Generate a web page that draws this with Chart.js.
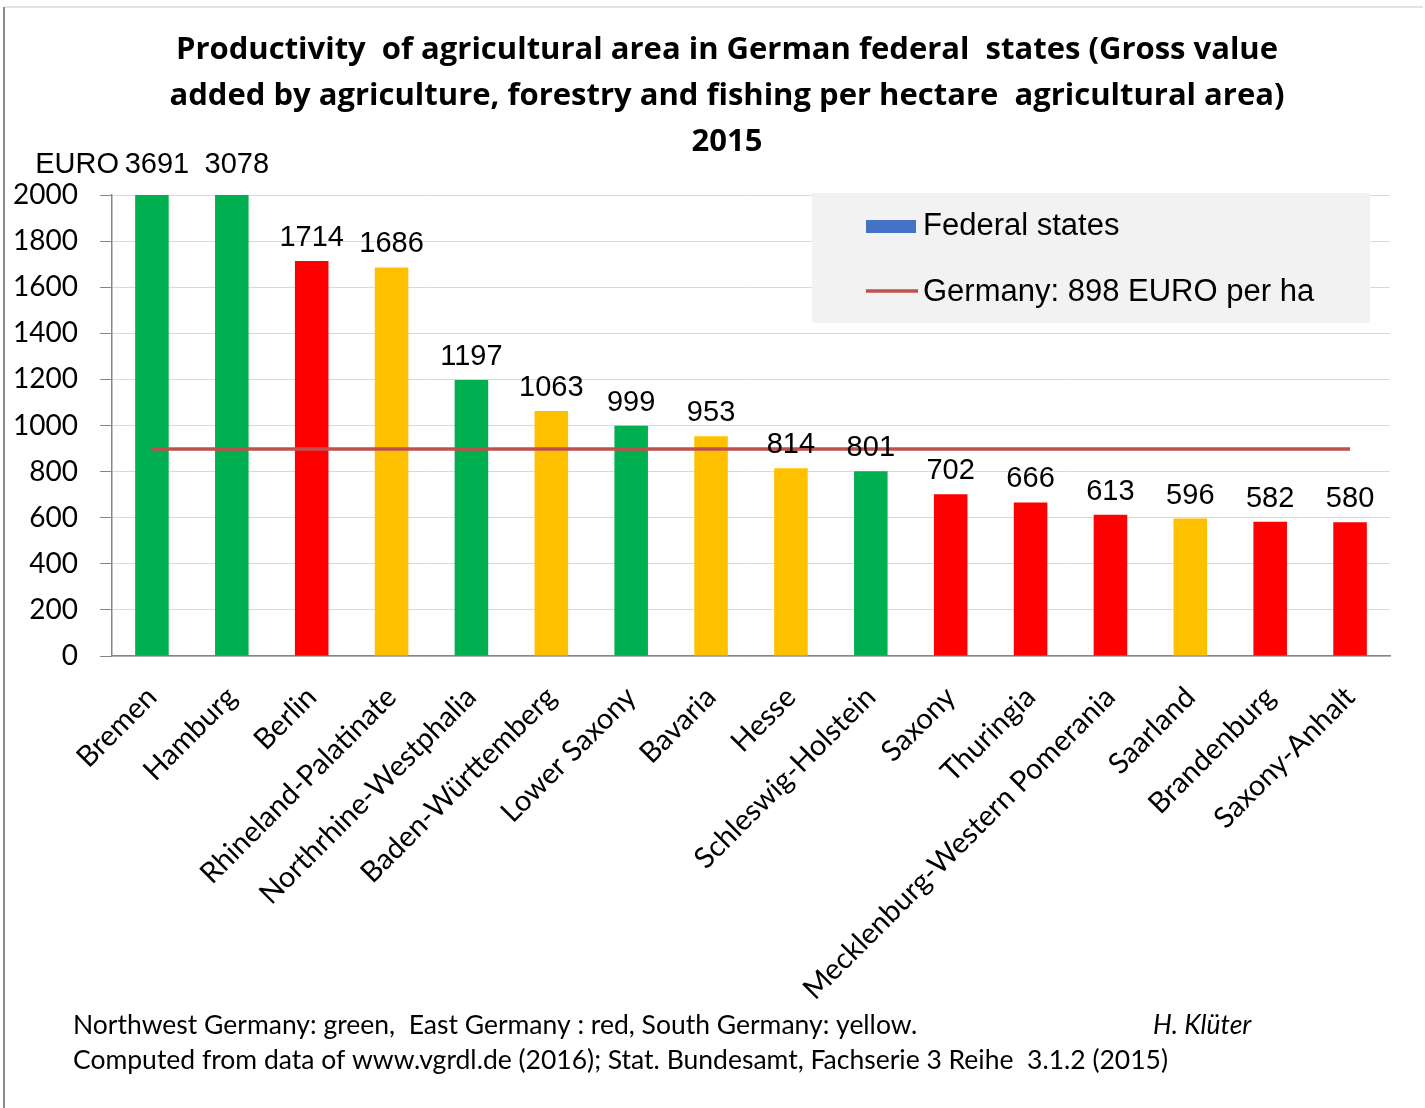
<!DOCTYPE html>
<html>
<head>
<meta charset="utf-8">
<title>Productivity of agricultural area in German federal states 2015</title>
<script src="https://cdn.jsdelivr.net/npm/chart.js@4.4.1/dist/chart.umd.min.js"></script>
<style>
  html, body { margin: 0; padding: 0; background: #fff; }
  #wrap { position: relative; width: 1425px; height: 1108px; }
</style>
</head>
<body>
<div id="wrap"><canvas id="prodChart" width="1425" height="1108"></canvas></div>
<script>
// Gross value added per hectare of agricultural area, 2015 (EURO)
const states = ['Bremen', 'Hamburg', 'Berlin', 'Rhineland-Palatinate', 'Northrhine-Westphalia',
  'Baden-Württemberg', 'Lower Saxony', 'Bavaria', 'Hesse', 'Schleswig-Holstein', 'Saxony',
  'Thuringia', 'Mecklenburg-Western Pomerania', 'Saarland', 'Brandenburg', 'Saxony-Anhalt'];
const valuePerHa = [3691, 3078, 1714, 1686, 1197, 1063, 999, 953, 814, 801, 702, 666, 613, 596, 582, 580];
// NW = northwest, E = east, S = south
const region = ['NW', 'NW', 'E', 'S', 'NW', 'S', 'NW', 'S', 'S', 'NW', 'E', 'E', 'E', 'S', 'E', 'E'];
const germanyAvg = 898;
const yTicks = [0, 200, 400, 600, 800, 1000, 1200, 1400, 1600, 1800, 2000];

const regionColor = { NW: '#00B050', E: '#FF0000', S: '#FFC000' };
const sansCal = 'Lato, "Noto Sans", sans-serif';
const sansAri = '"Liberation Sans", Arial, sans-serif';

// frame, title, value labels, legend box and footer notes
const decorations = {
  id: 'decorations',
  beforeDraw(chart) {
    const ctx = chart.ctx;
    ctx.save();
    ctx.fillStyle = '#fff';
    ctx.fillRect(0, 0, chart.width, chart.height);
    ctx.strokeStyle = '#e3e3e3';
    ctx.lineWidth = 2;
    ctx.beginPath(); ctx.moveTo(4, 7); ctx.lineTo(1423, 7); ctx.stroke();
    ctx.strokeStyle = '#8c8c8c';
    ctx.beginPath(); ctx.moveTo(4, 7); ctx.lineTo(4, 1108); ctx.stroke();
    ctx.restore();
  },
  beforeDatasetsDraw(chart) {
    // legend panel sits behind the marks
    const ctx = chart.ctx;
    ctx.save();
    ctx.fillStyle = '#F2F2F2';
    ctx.fillRect(812, 193, 558, 130);
    ctx.restore();
  },
  afterDraw(chart) {
    const ctx = chart.ctx;
    const yScale = chart.scales.y;
    const bars = chart.getDatasetMeta(0).data;
    ctx.save();

    // title
    ctx.fillStyle = '#000';
    ctx.textAlign = 'center';
    ctx.textBaseline = 'middle';
    ctx.font = 'bold 31px "Open Sans", sans-serif';
    ['Productivity  of agricultural area in German federal  states (Gross value',
     'added by agriculture, forestry and fishing per hectare  agricultural area)',
     '2015'].forEach((t, i) => ctx.fillText(t, 727, 50 + i * 46));

    // value labels
    ctx.font = '29px ' + sansAri;
    ctx.textBaseline = 'alphabetic';
    bars.forEach((bar, i) => {
      const v = valuePerHa[i];
      if (v > yScale.max) {
        ctx.fillText(String(v), bar.x + 5, 173);
      } else {
        ctx.fillText(String(v), bar.x, bar.y - 15);
      }
    });
    ctx.textAlign = 'right';
    ctx.fillText('EURO', 119, 173);

    // legend
    const ds = chart.data.datasets;
    ctx.font = '31px ' + sansAri;
    ctx.textAlign = 'left';
    ctx.textBaseline = 'middle';
    ctx.fillStyle = ds[0].legendColor;
    ctx.fillRect(866, 220, 50, 13);
    ctx.fillStyle = '#000';
    ctx.fillText(ds[0].label, 923, 226);
    ctx.strokeStyle = ds[1].borderColor;
    ctx.lineWidth = 3.5;
    ctx.beginPath(); ctx.moveTo(866, 291); ctx.lineTo(918, 291); ctx.stroke();
    ctx.fillText(ds[1].label, 923, 292);

    // footer
    ctx.font = '26.5px ' + sansCal;
    ctx.fillText('Northwest Germany: green,  East Germany : red, South Germany: yellow.', 73, 1025);
    ctx.fillText('Computed from data of www.vgrdl.de (2016); Stat. Bundesamt, Fachserie 3 Reihe  3.1.2 (2015)', 73, 1060);
    ctx.font = 'italic 26.5px ' + sansCal;
    ctx.fillText('H. Klüter', 1153, 1025);
    ctx.restore();
  }
};

new Chart(document.getElementById('prodChart'), {
  data: {
    labels: states,
    datasets: [{
      type: 'bar',
      label: 'Federal states',
      data: valuePerHa,
      backgroundColor: region.map(r => regionColor[r]),
      legendColor: '#4472C4',
      barPercentage: 0.42,
      categoryPercentage: 1,
      order: 2
    }, {
      type: 'line',
      label: 'Germany: ' + germanyAvg + ' EURO per ha',
      data: states.map(() => germanyAvg),
      borderColor: '#C0504D',
      borderWidth: 3.5,
      pointRadius: 0,
      order: 1
    }]
  },
  options: {
    responsive: false,
    animation: false,
    layout: { padding: { top: 195, left: 0, right: 35, bottom: 0 } },
    plugins: {
      legend: { display: false },
      title: { display: false },
      tooltip: { enabled: false }
    },
    scales: {
      x: {
        grid: { display: false, drawTicks: false },
        border: { color: '#868686', width: 1.5 },
        ticks: {
          color: '#000',
          font: { family: sansCal, size: 29 },
          minRotation: 45,
          maxRotation: 45,
          autoSkip: false,
          padding: 24
        },
        afterFit(scale) { scale.height = 1108 - 656; }
      },
      y: {
        min: 0,
        max: 2000,
        afterBuildTicks(scale) { scale.ticks = yTicks.map(v => ({ value: v })); },
        grid: { color: '#D9D9D9', lineWidth: 1, tickLength: 12, tickColor: '#868686' },
        border: { color: '#868686', width: 1.5 },
        ticks: {
          color: '#000',
          font: { family: sansCal, size: 28 },
          padding: 22,
          callback: v => String(v)
        },
        afterFit(scale) { scale.width = 112; }
      }
    }
  },
  plugins: [decorations]
});
</script>
</body>
</html>
